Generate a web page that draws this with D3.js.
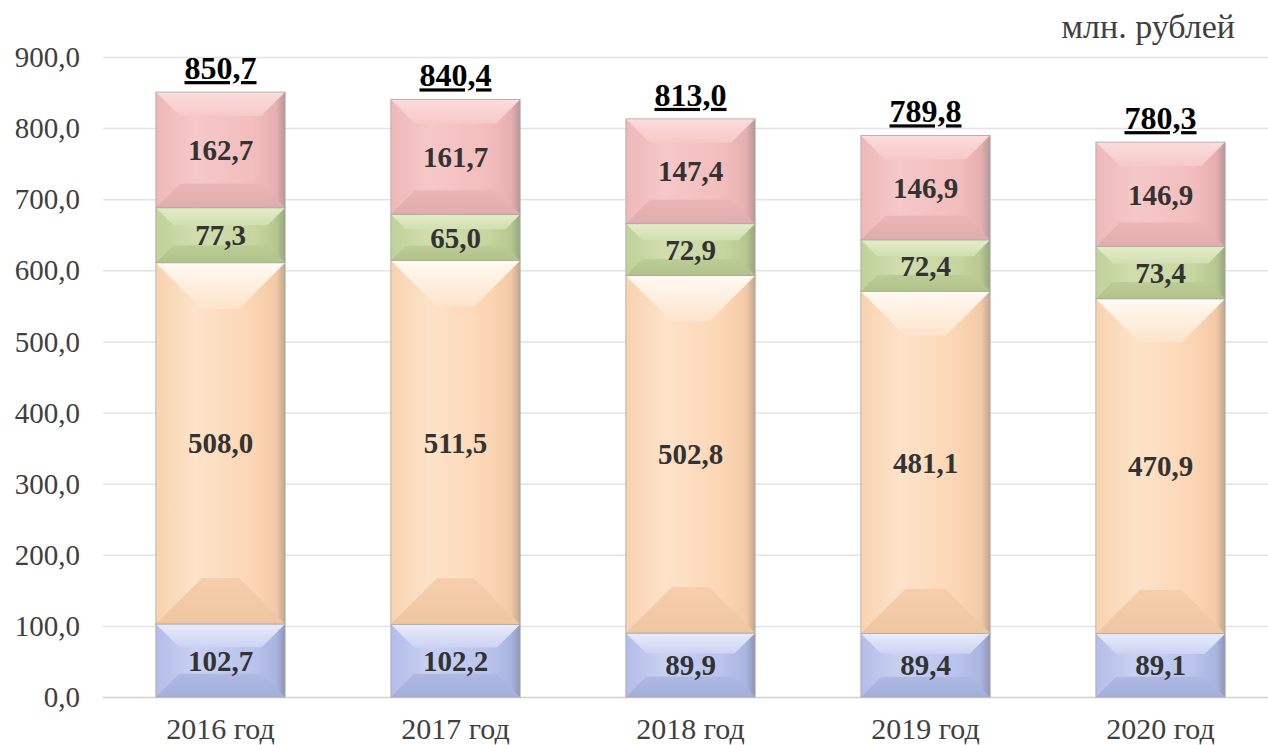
<!DOCTYPE html>
<html>
<head>
<meta charset="utf-8">
<script src="https://cdn.jsdelivr.net/npm/d3@7"></script>
<style>
  body { margin: 0; background: #fff; }
  svg text { font-family: "Liberation Serif", "Times New Roman", Times, "DejaVu Serif", serif; }
</style>
</head>
<body>
<svg width="1268" height="745"></svg>
<script>
// chart data
let years = ["2016 год", "2017 год", "2018 год", "2019 год", "2020 год"];
let blueVals = [102.7, 102.2, 89.9, 89.4, 89.1];
let orangeVals = [508.0, 511.5, 502.8, 481.1, 470.9];
let greenVals = [77.3, 65.0, 72.9, 72.4, 73.4];
let pinkVals = [162.7, 161.7, 147.4, 146.9, 146.9];
let totals = [850.7, 840.4, 813.0, 789.8, 780.3];
let yTicks = [0, 100, 200, 300, 400, 500, 600, 700, 800, 900];

let series = [
  {key: "blue", values: blueVals, face: "#b9c3ec", light: "#e8ecfc", dark: "#9ba7d6"},
  {key: "orange", values: orangeVals, face: "#fcd6b4", light: "#fffaf1", dark: "#ebc09c"},
  {key: "green", values: greenVals, face: "#c6d69f", light: "#e3edc9", dark: "#a9bd83"},
  {key: "pink", values: pinkVals, face: "#f3bdbd", light: "#fcdcdc", dark: "#dba6a6"}
];

let svg = d3.select("svg"),
    margin = {top: 57, right: -10, bottom: 48, left: 103},
    width = +svg.attr("width") - margin.left - margin.right,
    height = +svg.attr("height") - margin.top - margin.bottom;

let x = d3.scaleBand().domain(years).range([0, width]).paddingInner(0.45).paddingOuter(0.225),
    y = d3.scaleLinear().domain([0, 900]).range([height, 0]);

let fmt = v => d3.format(".1f")(v).replace(".", ",");
let mix = (a, b, t) => d3.interpolateRgb(a, b)(t);

let g = svg.append("g")
  .attr("transform", "translate(" + margin.left + "," + margin.top + ")");

// gridlines
g.selectAll(".grid")
  .data(yTicks)
  .enter().append("line")
  .attr("x1", 0).attr("x2", width)
  .attr("y1", d => y(d) + 0.5).attr("y2", d => y(d) + 0.5)
  .attr("stroke", d => d === 0 ? "#d0d0d0" : "#e3e3e3")
  .attr("stroke-width", 1.5);

// y tick labels
g.selectAll(".ytick")
  .data(yTicks)
  .enter().append("text")
  .attr("x", -23)
  .attr("y", d => y(d))
  .attr("dy", "0.35em")
  .attr("text-anchor", "end")
  .attr("font-size", 29)
  .attr("fill", "#404040")
  .text(fmt);

// x labels
g.selectAll(".xlab")
  .data(years)
  .enter().append("text")
  .attr("x", d => x(d) + x.bandwidth() / 2)
  .attr("y", height + 42)
  .attr("text-anchor", "middle")
  .attr("font-size", 30)
  .attr("fill", "#404040")
  .text(d => d);

// unit label
svg.append("text")
  .attr("x", 1235).attr("y", 38)
  .attr("text-anchor", "end")
  .attr("font-size", 34)
  .attr("fill", "#404040")
  .text("млн. рублей");

// stacked bars with bevel
let stackData = years.map((yr, i) => {
  let base = 0;
  return series.map(s => {
    let seg = {year: yr, s: s, v: s.values[i], y0: base, y1: base + s.values[i]};
    base += s.values[i];
    return seg;
  });
});

let defs = svg.append("defs");
series.forEach(s => {
  let gt = defs.append("linearGradient").attr("id", "top-" + s.key)
    .attr("x1", 0).attr("y1", 0).attr("x2", 0).attr("y2", 1);
  gt.append("stop").attr("offset", 0).attr("stop-color", s.light);
  gt.append("stop").attr("offset", 1).attr("stop-color", mix(s.light, s.face, 0.6));
  let gb = defs.append("linearGradient").attr("id", "bot-" + s.key)
    .attr("x1", 0).attr("y1", 0).attr("x2", 0).attr("y2", 1);
  gb.append("stop").attr("offset", 0).attr("stop-color", mix(s.face, s.dark, 0.35));
  gb.append("stop").attr("offset", 1).attr("stop-color", mix(s.face, s.dark, 0.75));
  let gf = defs.append("linearGradient").attr("id", "face-" + s.key)
    .attr("x1", 0).attr("y1", 0).attr("x2", 1).attr("y2", 0);
  gf.append("stop").attr("offset", 0).attr("stop-color", mix(s.face, s.dark, 0.2));
  gf.append("stop").attr("offset", 0.3).attr("stop-color", mix(s.face, s.light, 0.35));
  gf.append("stop").attr("offset", 0.75).attr("stop-color", s.face);
  gf.append("stop").attr("offset", 0.93).attr("stop-color", mix(s.face, s.dark, 0.55));
  gf.append("stop").attr("offset", 1).attr("stop-color", mix(s.dark, "#777", 0.35));
});

let segs = g.selectAll(".bar")
  .data(stackData.flat())
  .enter().append("g")
  .attr("class", "bar");

segs.each(function(d) {
  let sel = d3.select(this);
  let x0 = x(d.year), x1 = x0 + x.bandwidth();
  let top = y(d.y1), bot = y(d.y0);
  let h = bot - top;
  let b = Math.min(46, Math.max(h * 0.13, Math.min(h * 0.32, 24)));
  let pts = arr => arr.map(p => p.join(",")).join(" ");
  sel.append("rect")
    .attr("x", x0).attr("y", top).attr("width", x1 - x0).attr("height", h)
    .attr("fill", "url(#face-" + d.s.key + ")");
  sel.append("polygon").attr("points", pts([[x0, top], [x1, top], [x1 - b, top + b], [x0 + b, top + b]]))
    .attr("fill", "url(#top-" + d.s.key + ")");
  sel.append("polygon").attr("points", pts([[x0, bot], [x1, bot], [x1 - b, bot - b], [x0 + b, bot - b]]))
    .attr("fill", "url(#bot-" + d.s.key + ")");
  sel.append("rect")
    .attr("x", x0).attr("y", top).attr("width", x1 - x0).attr("height", h)
    .attr("fill", "none").attr("stroke", "#a8a8a8").attr("stroke-width", 0.8);
  sel.append("text")
    .attr("x", (x0 + x1) / 2)
    .attr("y", (top + bot) / 2)
    .attr("dy", "0.35em")
    .attr("text-anchor", "middle")
    .attr("font-size", 29)
    .attr("font-weight", "bold")
    .attr("fill", "#333")
    .text(fmt(d.v));
});

// totals
g.selectAll(".total")
  .data(totals)
  .enter().append("text")
  .attr("x", (d, i) => x(years[i]) + x.bandwidth() / 2)
  .attr("y", d => y(d) - 13)
  .attr("text-anchor", "middle")
  .attr("font-size", 32)
  .attr("font-weight", "bold")
  .attr("text-decoration", "underline")
  .attr("fill", "#000")
  .text(fmt);
</script>
</body>
</html>
